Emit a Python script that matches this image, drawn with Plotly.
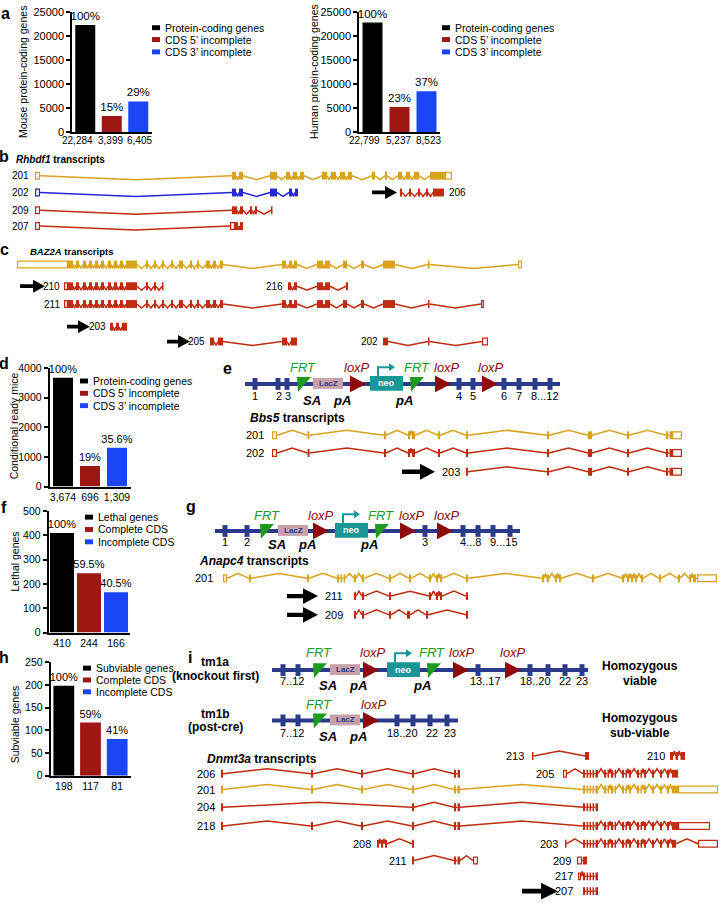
import plotly.graph_objects as go

W, H = 720, 907
FONT = "Liberation Sans, Arial, sans-serif"
NAVY = "#2c3a8a"
YEL = "#d9a21b"
RED = "#bf2c10"
BLUE_TX = "#2626d8"
BAR_COLORS = ["#000000", "#9e1712", "#1b46f5"]
GREEN = "#1e9a1e"
LOX = "#8e0b0b"
TEAL = "#1a9696"
LACZ = "#c9a1a9"

# ------------------------------------------------------------------ data
cds_names = ["Protein-coding genes", "CDS 5\u2019 incomplete", "CDS 3\u2019 incomplete"]
lethal_names = ["Lethal genes", "Complete CDS", "Incomplete CDS"]
subv_names = ["Subviable genes", "Complete CDS", "Incomplete CDS"]

mouse_counts = [22284, 3399, 6405]
mouse_pct = ["100%", "15%", "29%"]
human_counts = [22799, 5237, 8523]
human_pct = ["100%", "23%", "37%"]
cond_counts = [3674, 696, 1309]
cond_pct = ["100%", "19%", "35.6%"]
lethal_counts = [410, 244, 166]
lethal_pct = ["100%", "59.5%", "40.5%"]
subv_counts = [198, 117, 81]
subv_pct = ["100%", "59%", "41%"]

# transcript models: (kind, start, end) ; c = coding exon, u = UTR
rhbdf1_201 = [("u", 35, 40), ("c", 232, 236), ("c", 239, 243), ("c", 270, 277), ("c", 286, 290),
              ("c", 293, 297), ("c", 300, 304), ("c", 322, 327), ("c", 331, 336), ("c", 340, 345),
              ("c", 348, 352), ("c", 372, 375), ("c", 385, 387), ("c", 398, 402), ("c", 406, 410),
              ("c", 414, 419), ("c", 430, 445), ("u", 445, 452)]
rhbdf1_202 = [("u", 35, 40), ("c", 232, 236), ("c", 239, 243), ("c", 270, 277), ("c", 289, 292), ("c", 295, 298)]
rhbdf1_209 = [("u", 35, 40), ("c", 232, 237), ("c", 240, 243), ("c", 250, 252), ("c", 255, 257), ("c", 271, 272.5)]
rhbdf1_207 = [("u", 35, 40), ("u", 230, 235), ("c", 235, 238), ("c", 240, 243)]
rhbdf1_206 = [("c", 400, 402), ("c", 409, 411), ("c", 418, 420), ("c", 426, 428), ("c", 433, 444)]

baz_core = [("c", 68, 73), ("c", 76, 79), ("c", 83, 86), ("c", 89, 92), ("c", 95, 98), ("c", 101, 104),
            ("c", 108, 111), ("c", 114, 117), ("c", 120, 123), ("c", 126, 137)]
baz_mid = [("c", 146, 148), ("c", 154, 156), ("c", 162, 164), ("c", 171, 173), ("c", 179, 183),
           ("c", 190, 192), ("c", 197, 199), ("c", 206, 210), ("c", 213, 216), ("c", 220, 223)]
baz_tail = [("c", 282, 286), ("c", 289, 292), ("c", 294, 297), ("c", 317, 323), ("c", 325, 330),
            ("c", 343, 347), ("c", 361, 364), ("c", 383, 395), ("c", 428, 429.5)]
baz2a_214 = [("u", 17, 68)] + baz_core + baz_mid + baz_tail + [("u", 518, 522)]
baz2a_210 = [("u", 64, 68)] + baz_core + [("c", 146, 148), ("c", 154, 156), ("c", 162, 163.5)]
baz2a_216 = [("c", 288, 291), ("c", 294, 297), ("c", 317, 323), ("c", 325, 330), ("c", 346, 348)]
baz2a_211 = [("u", 64, 68)] + baz_core + baz_mid + baz_tail + [("u", 481, 484)]
baz2a_203 = [("c", 110, 113), ("c", 116, 119), ("c", 122, 127)]
baz2a_205 = [("c", 210, 214), ("c", 218, 223), ("c", 282, 287), ("c", 291, 297)]
baz2a_202 = [("c", 383, 388), ("c", 428, 429.5), ("u", 482, 488)]

bbs5_body = [("c", 466, 468), ("c", 547, 549), ("c", 588, 592), ("c", 627, 629),
             ("c", 666, 668), ("c", 669.5, 672), ("u", 672, 682)]
bbs5_201 = [("u", 272, 277), ("c", 307.5, 309.5), ("c", 384, 386), ("c", 408, 410), ("c", 412, 415),
            ("c", 438, 440)] + bbs5_body
bbs5_202 = list(bbs5_201)
bbs5_203 = list(bbs5_body)

anapc4_201 = [("u", 223, 227), ("c", 249, 251), ("c", 307, 309), ("c", 337, 339), ("c", 340.5, 342),
              ("c", 343.5, 345), ("c", 354, 356), ("c", 362, 364), ("c", 389, 391), ("c", 409, 411),
              ("c", 429, 431), ("c", 436, 438), ("c", 440, 442), ("c", 466, 468), ("c", 542, 544),
              ("c", 547, 549), ("c", 555, 557), ("c", 559, 561), ("c", 592, 594), ("c", 622, 624),
              ("c", 627, 629), ("c", 631, 633), ("c", 635, 637), ("c", 641, 643), ("c", 659, 661),
              ("c", 678, 680), ("c", 689, 691), ("c", 693, 696), ("u", 697, 717)]
anapc4_211 = [("c", 354, 356), ("c", 362, 364), ("c", 389, 391), ("c", 429, 431), ("c", 436, 438),
              ("c", 440, 442), ("c", 466, 468)]
anapc4_209 = [("c", 354, 356), ("c", 362, 364), ("c", 389, 391), ("c", 407, 410), ("c", 426, 428),
              ("c", 466, 468)]

dn_5p = [("c", 221, 223), ("c", 311, 313), ("c", 361, 363), ("c", 412, 414), ("c", 454, 456), ("c", 457.5, 460)]
dn_first = [("c", 583, 585), ("c", 586.5, 588), ("c", 589.5, 591), ("c", 592.5, 594), ("c", 595.5, 598)]
dn_rest = [("c", 604, 606), ("c", 607.5, 609), ("c", 611, 613), ("c", 614.5, 616), ("c", 622, 624),
           ("c", 625.5, 627), ("c", 629, 631), ("c", 637, 639), ("c", 640.5, 642), ("c", 644, 646),
           ("c", 652, 654), ("c", 660, 662), ("c", 667, 669)]
dnmt3a_206 = list(dn_5p)
dnmt3a_201 = dn_5p + dn_first + dn_rest + [("c", 672, 678), ("u", 678, 718)]
dnmt3a_204 = [("c", 221, 223), ("c", 412, 414), ("c", 454, 456), ("c", 457.5, 460)] + dn_first
dnmt3a_218 = dn_5p + dn_first + dn_rest + [("c", 672, 678), ("u", 678, 710)]
dnmt3a_208 = [("c", 377, 379), ("c", 381, 383), ("c", 385, 387), ("c", 412, 414)]
dnmt3a_211 = [("c", 412, 414), ("c", 454, 456), ("c", 457.5, 460), ("u", 473, 478)]
dnmt3a_205 = [("u", 563, 567)] + dn_first + dn_rest + [("c", 672, 678)]
dnmt3a_203 = [("c", 565, 566.5)] + dn_first + dn_rest + [("c", 672, 676), ("u", 698, 718)]
dnmt3a_209 = [("u", 577, 582), ("c", 583, 587)]
dnmt3a_217 = [("u", 578, 581)] + dn_first
dnmt3a_207 = list(dn_first)
dnmt3a_213 = [("c", 532, 533.5), ("c", 585, 589)]
dnmt3a_210 = [("c", 670, 673), ("c", 675.5, 678), ("c", 680.5, 685)]

# ------------------------------------------------------------------ helpers
fig = go.Figure()
shapes = []
annots = []


def T(x, y, s, size=10, color="black", xanchor="center", yanchor="middle", angle=0, xref="x", yref="y"):
    annots.append(dict(x=x, y=y, xref=xref, yref=yref, text=s, showarrow=False,
                       font=dict(size=size, color=color, family=FONT),
                       xanchor=xanchor, yanchor=yanchor, textangle=angle))


def rect(x0, x1, y0, y1, fill, line_color=None, lw=0):
    shapes.append(dict(type="rect", xref="x", yref="y", x0=x0, x1=x1, y0=y0, y1=y1,
                       fillcolor=fill, line=dict(color=line_color or fill, width=lw), layer="above"))


def poly(pts, fill):
    path = "M" + " L".join(f"{a},{b}" for a, b in pts) + " Z"
    shapes.append(dict(type="path", path=path, xref="x", yref="y", fillcolor=fill,
                       line=dict(width=0), layer="above"))


def transcript(y, exons, color, depth, label, gap=4, lsize=10, right_label=False, label_x=None):
    xs, ys = [], []
    for a, b in zip(exons[:-1], exons[1:]):
        g = b[1] - a[2]
        if g <= 0.3:
            continue
        if g < 2:
            xs += [a[2], b[1], None]
            ys += [y, y, None]
        else:
            xs += [a[2], (a[2] + b[1]) / 2, b[1], None]
            ys += [y, y + depth, y, None]
    if xs:
        fig.add_trace(go.Scatter(x=xs, y=ys, mode="lines", line=dict(color=color, width=1.5),
                                 hoverinfo="skip", showlegend=False, xaxis="x", yaxis="y"))
    for k, x0, x1 in exons:
        if k == "c":
            rect(x0, x1, y - 4, y + 4, color)
        else:
            rect(x0 + 0.6, x1 - 0.6, y - 3.4, y + 3.4, "white", color, 1.2)
    if label_x is not None:
        T(label_x, y, label, lsize, xanchor="left")
    elif right_label:
        T(exons[-1][2] + gap, y, label, lsize, xanchor="left")
    else:
        T(exons[0][1] - gap, y, label, lsize, xanchor="right")


def arrow(x0, x1, y, hl, hh, sh):
    xm = x1 - hl
    poly([(x0, y - sh), (xm, y - sh), (xm, y - hh), (x1, y), (xm, y + hh), (xm, y + sh), (x0, y + sh)], "black")


def construct(y, xa, xb, exons, frts, loxps, lacz, neo=None):
    shapes.append(dict(type="line", xref="x", yref="y", x0=xa, x1=xb, y0=y, y1=y,
                       line=dict(color=NAVY, width=4), layer="above"))
    for ex in exons:
        rect(ex - 2.5, ex + 2.5, y - 6, y + 6, NAVY)
    rect(lacz[0], lacz[1], y - 6, y + 5, LACZ)
    T((lacz[0] + lacz[1]) / 2, y - 0.5, "<b>LacZ</b>", 8, NAVY)
    if neo:
        rect(neo[0], neo[1], y - 8, y + 7, TEAL)
        T((neo[0] + neo[1]) / 2, y - 0.5, "<b>neo</b>", 9, "white")
        ax = neo[0] + 8
        shapes.append(dict(type="path", path=f"M{ax},{y-8} L{ax},{y-17} L{ax+12},{y-17}",
                           xref="x", yref="y", line=dict(color=TEAL, width=2), layer="above"))
        poly([(ax + 11, y - 21), (ax + 11, y - 13), (ax + 17, y - 17)], TEAL)
    for f in frts:
        poly([(f, y - 7), (f + 14, y - 7), (f + 1, y + 8)], GREEN)
    for l in loxps:
        poly([(l, y - 8.5), (l, y + 8.5), (l + 16, y)], LOX)


def bar_panel(n, counts, pcts, xdom, ydom, yrange, dtick, width, tfs, lfs, cat_pos=None, cat_fs=None):
    xa, ya = f"x{n}", f"y{n}"
    for i, (c, p, col) in enumerate(zip(counts, pcts, BAR_COLORS)):
        fig.add_trace(go.Bar(x=[i], y=[c], text=[p], textposition="outside", width=width,
                             marker=dict(color=col, line=dict(width=0)), xaxis=xa, yaxis=ya,
                             showlegend=False, cliponaxis=False, constraintext="none",
                             textfont=dict(size=lfs, color="black", family=FONT), hoverinfo="skip"))
    lay = {}
    lay[f"xaxis{n}"] = dict(domain=[xdom[0] / W, xdom[1] / W], range=[-0.5, 2.5], anchor=ya,
                            tickmode="array", tickvals=[0, 1, 2], ticktext=[f"{c:,}" for c in counts],
                            tickangle=0, showticklabels=cat_pos is None,
                            showline=True, linecolor="black", linewidth=1.5, ticks="", showgrid=False,
                            zeroline=False, tickfont=dict(size=tfs, color="black", family=FONT),
                            fixedrange=True)
    lay[f"yaxis{n}"] = dict(domain=[1 - ydom[1] / H, 1 - ydom[0] / H], range=yrange, anchor=xa,
                            dtick=dtick, tickformat="d", showline=True, linecolor="black", linewidth=1.5,
                            ticks="outside", ticklen=4, tickwidth=1.5, tickcolor="black",
                            showgrid=False, zeroline=False,
                            tickfont=dict(size=tfs, color="black", family=FONT), fixedrange=True)
    fig.update_layout(**lay)
    if cat_pos is not None:
        for c, xp in zip(counts, cat_pos):
            T(xp, ydom[1] + 8, f"{c:,}", cat_fs or tfs, xref=xa, yref="y")


def legend(x, ys, names, size=10):
    for yy, nm, col in zip(ys, names, BAR_COLORS):
        rect(x, x + 8, yy - 2.5, yy + 2.5, col)
        T(x + 11, yy, nm, size, xanchor="left")


# ------------------------------------------------------------------ panel a
bar_panel(2, mouse_counts, mouse_pct, (72, 151.5), (6, 128), [0, 25000], 5000, 0.755, 11, 11.5,
          cat_pos=[-0.3, 0.97, 2.06], cat_fs=10)
bar_panel(3, human_counts, human_pct, (359, 440), (6, 128), [0, 25000], 5000, 0.74, 11, 11.5,
          cat_pos=[-0.3, 0.97, 2.06], cat_fs=10)
legend(152, [22, 34, 46.5], cds_names, 10.5)
legend(442, [22, 34, 46.5], cds_names, 10.5)
T(5, 8, "<b>a</b>", 16)
T(23, 67, "Mouse protein-coding genes", 10.5, angle=-90)
T(314, 67, "Human protein-coding genes", 10.5, angle=-90)

# ------------------------------------------------------------------ panel b
T(4, 153, "<b>b</b>", 16)
T(14, 156, "<b><i>Rhbdf1</i> transcripts</b>", 10, xanchor="left")
transcript(172, rhbdf1_201, YEL, 4, "201")
transcript(189, rhbdf1_202, BLUE_TX, 4, "202")
transcript(207, rhbdf1_209, RED, 4, "209")
transcript(223, rhbdf1_207, RED, 4, "207")
transcript(189, rhbdf1_206, RED, 4, "206", gap=3, right_label=True)
arrow(372, 397, 189, 12, 6.5, 1.9)

# ------------------------------------------------------------------ panel c
T(4, 247, "<b>c</b>", 16)
T(28, 249, "<b><i>BAZ2A</i> transcripts</b>", 9.5, xanchor="left")
transcript(262, baz2a_214, YEL, 4, "214", label_x=-1)
transcript(284, baz2a_210, RED, 4, "210", gap=2)
transcript(284, baz2a_216, RED, 4, "216", gap=3)
transcript(302, baz2a_211, RED, 4, "211", gap=2)
transcript(325, baz2a_203, RED, 4, "203", gap=2)
transcript(340, baz2a_205, RED, 4, "205", gap=3)
transcript(340, baz2a_202, RED, 4, "202", gap=3)
arrow(20, 45, 284, 12, 6.5, 1.9)
arrow(67, 90, 325, 12, 6.5, 1.9)
arrow(167, 190, 340, 12, 6.5, 1.9)

# ------------------------------------------------------------------ panel d
bar_panel(4, cond_counts, cond_pct, (49.5, 130.5), (367, 487), [0, 4000], 1000, 0.74, 10.5, 11)
legend(80, [380, 392.5, 405], cds_names, 10.5)
T(4, 362, "<b>d</b>", 16)
T(14, 426, "Conditional ready mice", 10.5, angle=-90)

# ------------------------------------------------------------------ panel e
T(227, 367, "<b>e</b>", 16)
construct(383, 245, 560, [255, 278, 287, 459, 473, 504, 519, 535, 550], [297, 410], [350, 435, 482],
          (313, 343), (370, 403))
for xx, s in [(303, "FRT"), (417, "FRT")]:
    T(xx, 366, f"<i>{s}</i>", 13, GREEN)
for xx in [357, 447, 491]:
    T(xx, 366, "<i>loxP</i>", 13, LOX)
for xx, s in [(312, "SA"), (342, "pA"), (404, "pA")]:
    T(xx, 400, f"<b><i>{s}</i></b>", 13)
for xx, s in [(255, "1"), (279, "2"), (287.5, "3"), (459, "4"), (473, "5"), (504, "6"), (519, "7"), (545, "8...12")]:
    T(xx, 395, s, 11)
T(248, 418, "<b><i>Bbs5</i> transcripts</b>", 12, xanchor="left")
transcript(435, bbs5_201, YEL, -5, "201", gap=6, lsize=11)
transcript(453, bbs5_202, RED, -5, "202", gap=6, lsize=11)
transcript(472, bbs5_203, RED, -5, "203", gap=4, lsize=11)
arrow(402, 435, 472, 15, 8, 2.2)

# ------------------------------------------------------------------ panel f
bar_panel(5, lethal_counts, lethal_pct, (48.5, 129.5), (512, 635), [0, 500], 100, 0.89, 10.5, 11)
legend(85, [518, 530.5, 543], lethal_names, 10.5)
T(4, 508, "<b>f</b>", 16)
T(15, 563, "Lethal genes", 10.5, angle=-90)

# ------------------------------------------------------------------ panel g
T(191, 507, "<b>g</b>", 16)
construct(532, 215, 520, [225, 247, 425, 463, 478, 493, 510], [260, 375], [313, 400, 437],
          (278, 308), (335, 368))
for xx in [267, 381]:
    T(xx, 516, "<i>FRT</i>", 13, GREEN)
for xx in [321, 412, 447]:
    T(xx, 516, "<i>loxP</i>", 13, LOX)
for xx, s in [(277, "SA"), (307, "pA"), (369, "pA")]:
    T(xx, 546, f"<b><i>{s}</i></b>", 13)
for xx, s in [(225, "1"), (247, "2"), (425, "3"), (470, "4...8"), (504, "9...15")]:
    T(xx, 543, s, 11)
T(197, 562, "<b><i>Anapc4</i> transcripts</b>", 12, xanchor="left")
transcript(580, anapc4_201, YEL, -5, "201", gap=8, lsize=11)
transcript(598, anapc4_211, RED, -5, "211", gap=9, lsize=11)
transcript(617, anapc4_209, RED, -5, "209", gap=9, lsize=11)
arrow(287, 318, 598, 15, 8, 2.2)
arrow(287, 318, 617, 15, 8, 2.2)

# ------------------------------------------------------------------ panel h
bar_panel(6, subv_counts, subv_pct, (50.5, 130.5), (665, 780), [0, 250], 50, 0.78, 10.5, 11)
legend(83, [671, 683, 695], subv_names, 10.5)
T(4, 660, "<b>h</b>", 16)
T(15, 728, "Subviable genes", 10.5, angle=-90)

# ------------------------------------------------------------------ panel i
T(190, 660, "<b>i</b>", 16)
T(215, 665, "<b>tm1a</b>", 12)
T(215, 679, "<b>(knockout first)</b>", 12)
T(215, 717, "<b>tm1b</b>", 12)
T(215, 731, "<b>(post-cre)</b>", 12)
T(640, 669, "<b>Homozygous</b>", 12)
T(640, 684, "<b>viable</b>", 12)
T(640, 722, "<b>Homozygous</b>", 12)
T(640, 737, "<b>sub-viable</b>", 12)

construct(673, 272, 588, [283, 298, 478, 530, 548, 565, 582], [313, 427], [363, 453, 505],
          (330, 360), (387, 420))
for xx in [319, 432]:
    T(xx, 655, "<i>FRT</i>", 13, GREEN)
for xx in [373, 462, 513]:
    T(xx, 655, "<i>loxP</i>", 13, LOX)
for xx, s in [(328, "SA"), (358, "pA"), (422, "pA")]:
    T(xx, 689, f"<b><i>{s}</i></b>", 13)
for xx, s in [(292, "7..12"), (485, "13..17"), (535, "18..20"), (565, "22"), (582, "23")]:
    T(xx, 684, s, 11)

construct(724, 272, 458, [283, 298, 397, 413, 430, 447], [313], [363], (330, 360))
T(319, 708, "<i>FRT</i>", 13, GREEN)
T(374, 708, "<i>loxP</i>", 13, LOX)
for xx, s in [(328, "SA"), (358, "pA")]:
    T(xx, 740, f"<b><i>{s}</i></b>", 13)
for xx, s in [(292, "7..12"), (402, "18..20"), (432, "22"), (450, "23")]:
    T(xx, 737, s, 11)

T(205, 763, "<b><i>Dnmt3a</i> transcripts</b>", 12, xanchor="left")
transcript(760, dnmt3a_213, RED, -5, "213", gap=6, lsize=11)
transcript(760, dnmt3a_210, RED, -5, "210", gap=3, lsize=11)
transcript(778, dnmt3a_206, RED, -5, "206", gap=4, lsize=11)
transcript(778, dnmt3a_205, RED, -5, "205", gap=7, lsize=11)
transcript(794, dnmt3a_201, YEL, -5, "201", gap=4, lsize=11)
transcript(812, dnmt3a_204, RED, -5, "204", gap=4, lsize=11)
transcript(831, dnmt3a_218, RED, -5, "218", gap=4, lsize=11)
transcript(849, dnmt3a_208, RED, -5, "208", gap=4, lsize=11)
transcript(849, dnmt3a_203, RED, -5, "203", gap=5, lsize=11)
transcript(866, dnmt3a_211, RED, -5, "211", gap=3, lsize=11)
transcript(866, dnmt3a_209, RED, -5, "209", gap=4, lsize=11)
transcript(882, dnmt3a_217, RED, -5, "217", gap=3, lsize=11)
transcript(897, dnmt3a_207, RED, -5, "207", gap=8, lsize=11)
arrow(522, 558, 897, 17, 8.5, 2.3)

# ------------------------------------------------------------------ layout
fig.update_layout(
    width=W, height=H, autosize=False,
    margin=dict(l=0, r=0, t=0, b=0, pad=0),
    paper_bgcolor="white", plot_bgcolor="rgba(0,0,0,0)",
    font=dict(family=FONT, color="black", size=10),
    showlegend=False, barmode="overlay",
    xaxis=dict(domain=[0, 1], range=[0, W], visible=False, fixedrange=True),
    yaxis=dict(domain=[0, 1], range=[H, 0], visible=False, fixedrange=True),
    shapes=shapes, annotations=annots,
)
fig.write_html("out.html", config={"displayModeBar": False},
               post_script="document.body.style.margin='0';document.body.style.overflow='hidden';")
